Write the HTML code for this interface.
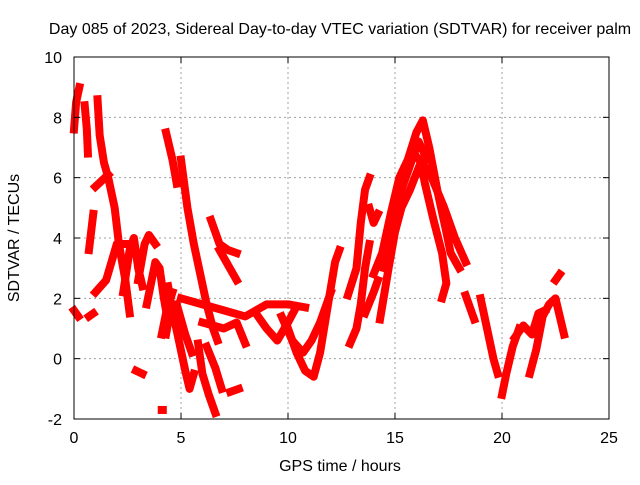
<!DOCTYPE html>
<html><head><meta charset="utf-8"><style>
body{margin:0;background:#fff}
text{font-family:"Liberation Sans",sans-serif;font-size:16px;fill:#000}
</style></head><body>
<svg id="chart" width="640" height="480" xmlns="http://www.w3.org/2000/svg">
<rect width="640" height="480" fill="#fff"/>
<g id="grid"></g>
<g id="series"></g>
<rect x="74" y="57" width="535" height="362" fill="none" stroke="#000" stroke-width="1"/>
<g id="ticks"></g>
<text x="340" y="34" text-anchor="middle">Day 085 of 2023, Sidereal Day-to-day VTEC variation (SDTVAR) for receiver palm</text>
<text x="340" y="471" text-anchor="middle">GPS time / hours</text>
<text x="0" y="0" text-anchor="middle" transform="translate(19,238) rotate(-90)">SDTVAR / TECUs</text>
</svg>
<script>
const xTicks=[0,5,10,15,20,25];
const yTicks=[-2,0,2,4,6,8,10];
const tracks=[
[[0,7.6],[0.1,8.5],[0.25,9.0]],
[[0.5,8.4],[0.6,7.6],[0.65,6.8]],
[[1.1,8.6],[1.2,7.4],[1.4,6.5],[1.6,6.0],[1.9,5.0],[2.1,3.8],[2.4,2.6],[2.6,1.5]],
[[1.0,5.7],[1.6,6.1]],
[[0.7,3.6],[0.9,4.8]],
[[0,1.6],[0.2,1.4]],
[[0.7,1.4],[0.9,1.5]],
[[1.0,2.2],[1.5,2.6],[2.0,3.8],[2.5,3.8]],
[[2.3,2.2],[2.6,3.6],[2.8,4.0],[3.0,3.0],[3.2,2.4]],
[[3.0,2.6],[3.3,3.8],[3.5,4.1],[3.8,3.8]],
[[3.4,1.8],[3.8,3.2],[4.0,3.0],[4.2,2.0],[4.4,1.2],[4.3,0.8]],
[[2.9,-0.4],[3.2,-0.5]],
[[4.1,-1.7],[4.15,-1.7]],
[[4.3,7.5],[4.6,6.6],[4.8,5.8]],
[[5.0,6.6],[5.3,5.0],[5.6,3.8],[5.9,2.8],[6.2,1.8],[6.5,1.0],[6.7,0.6]],
[[6.4,4.6],[6.8,3.8],[7.2,3.6],[7.6,3.5]],
[[6.8,3.6],[7.6,2.6]],
[[4.4,2.4],[4.6,1.6],[4.9,0.6],[5.2,-0.4],[5.4,-1.0],[5.6,-0.5]],
[[4.1,0.8],[4.3,1.5],[4.6,2.2]],
[[4.8,1.8],[5.2,0.8],[5.5,0.2]],
[[5.8,0.5],[6.0,-0.5],[6.3,-1.2],[6.6,-1.8]],
[[6.2,0.4],[6.6,-0.3],[6.9,-1.0]],
[[7.3,-1.1],[7.7,-1.0]],
[[5.0,2.0],[6.0,1.8],[7.0,1.6],[8.0,1.4],[9.0,1.8],[10.0,1.8],[10.8,1.7]],
[[6.0,1.2],[7.0,1.0],[7.6,1.2],[8.0,0.5]],
[[8.5,1.5],[9.0,1.0],[9.5,0.6],[10.0,1.2],[10.3,1.6]],
[[10.0,1.0],[10.4,0.2],[10.8,-0.4],[11.2,-0.6],[11.5,0.2],[11.8,1.5],[12.2,3.2],[12.4,3.6]],
[[9.7,1.4],[10.2,0.6],[10.7,0.2],[11.1,0.6],[11.5,1.2],[12.0,2.2]],
[[12.8,2.1],[13.2,3.0],[13.4,4.5],[13.6,5.6],[13.8,6.0]],
[[13.8,5.0],[14.0,4.5],[14.2,4.8]],
[[12.9,0.5],[13.2,1.0],[13.4,1.8],[13.6,3.0],[13.8,3.8]],
[[13.6,1.5],[14.0,2.2],[14.2,2.6]],
[[14.0,2.8],[14.4,3.5],[14.8,4.8],[15.2,6.0],[15.6,6.6],[16.0,7.5],[16.3,7.9],[16.6,7.0],[17.0,5.5],[17.4,4.2],[17.6,3.5],[18.0,3.0]],
[[14.3,1.3],[14.7,3.0],[15.0,4.2],[15.3,5.0],[15.7,5.6],[16.2,6.5],[16.4,5.8],[16.8,4.6],[17.2,3.5],[17.4,2.5],[17.2,2.0]],
[[14.5,3.0],[14.9,4.0],[15.3,5.6],[15.7,6.4],[16.1,7.2],[16.5,6.6]],
[[16.0,6.7],[16.6,6.2],[17.3,5.0],[17.8,4.0],[18.3,3.2]],
[[18.3,2.1],[18.7,1.3]],
[[19.0,2.0],[19.3,1.0],[19.6,0.0],[19.8,-0.5]],
[[20.0,-1.2],[20.2,-0.5],[20.5,0.4],[20.8,1.0]],
[[20.6,0.7],[21.0,1.1],[21.4,0.8],[21.7,1.5],[22.0,1.6]],
[[21.3,-0.5],[21.6,0.3],[21.9,1.4],[22.2,1.8],[22.5,2.0],[22.7,1.4],[22.9,0.8]],
[[22.5,2.6],[22.7,2.8]]
];
const NS="http://www.w3.org/2000/svg";
const L=74,R=609,T=57,B=419;
function xs(t){return L+(t-0)/25*(R-L);}
function ys(v){return B-(v+2)/12*(B-T);}
const grid=document.getElementById('grid'),ticks=document.getElementById('ticks'),ser=document.getElementById('series');
function mk(tag,attrs,parent){const e=document.createElementNS(NS,tag);for(const k in attrs)e.setAttribute(k,attrs[k]);parent.appendChild(e);return e;}
xTicks.forEach(t=>{
  const x=xs(t);
  if(t>0&&t<25){const g=mk('line',{x1:x,x2:x,y1:T,y2:B,stroke:'#a0a0a0','stroke-dasharray':'2,3'},grid);
  
  }
  mk('line',{x1:x,x2:x,y1:B,y2:B-6,stroke:'#000'},ticks);
  mk('line',{x1:x,x2:x,y1:T,y2:T+6,stroke:'#000'},ticks);
  const lb=mk('text',{x:x,y:B+24,'text-anchor':'middle'},ticks);lb.textContent=t;
  
  
});
yTicks.forEach(v=>{
  const y=ys(v);
  if(v>-2&&v<10){const g=mk('line',{x1:L,x2:R,y1:y,y2:y,stroke:'#a0a0a0','stroke-dasharray':'2,3'},grid);
  
  }
  mk('line',{x1:L,x2:L+6,y1:y,y2:y,stroke:'#000'},ticks);
  mk('line',{x1:R,x2:R-6,y1:y,y2:y,stroke:'#000'},ticks);
  const lb=mk('text',{x:L-12,y:y+6,'text-anchor':'end'},ticks);lb.textContent=v;
  
  
});
tracks.forEach(tr=>{
  const p=mk('polyline',{points:tr.map(d=>xs(d[0])+','+ys(d[1])).join(' '),fill:'none',stroke:'#ff0000','stroke-width':8,'stroke-linecap':'square','stroke-linejoin':'round'},ser);
  
  
});
</script>
</body></html>
